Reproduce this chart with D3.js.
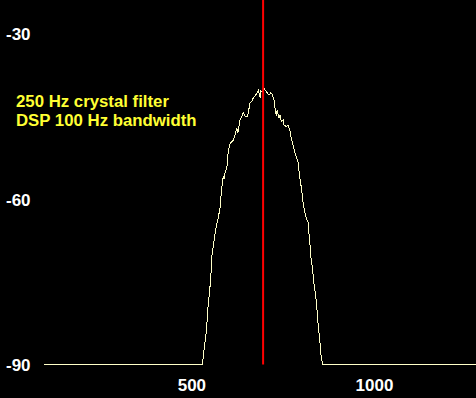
<!DOCTYPE html>
<html>
<head>
<meta charset="utf-8">
<script src="https://cdn.jsdelivr.net/npm/d3@7"></script>
<style>
  html, body { margin: 0; padding: 0; background: #000; }
  svg { display: block; }
</style>
</head>
<body>
<div id="chart"></div>
<script>
// spectrum trace, frequency (Hz) and level (dB)
const freqs = [95, 529, 530, 533, 536, 539, 542, 544, 547, 550, 553, 555, 561, 566, 572, 577, 580, 584, 586, 588,
  591, 596, 598, 600, 605, 609, 614, 618, 623, 626, 630, 632, 641, 646, 652, 655, 659, 664, 668, 673,
  678, 682, 687, 689, 694, 698, 701, 707, 711, 716, 720, 725, 729, 731, 734, 738, 741, 745, 750, 752,
  759, 763, 768, 772, 777, 782, 786, 791, 795, 800, 804, 809, 813, 818, 820, 823, 825, 829, 832, 834,
  838, 841, 844, 847, 850, 853, 854, 859, 1278];
const levels = [-90, -90, -89.2, -87.4, -85.9, -84.3, -81.9, -79.7, -77.7, -75.6, -72.8, -70.1, -67.4, -65.2, -63.4, -61.6, -59.2, -56.5, -55.9, -56.3,
  -55.2, -54.1, -52.3, -51.1, -49.8, -49.6, -49.2, -48.3, -47.1, -48.0, -46.2, -45.6, -44.3, -45.0, -44.9, -44.1, -42.5, -42.3, -41.6, -41.3,
  -40.7, -40.2, -41.6, -40.3, -40.5, -39.9, -40.2, -40.7, -41.1, -40.7, -40.9, -42.0, -44.3, -44.7, -43.8, -45.3, -44.7, -45.9, -45.6, -46.5,
  -46.8, -46.5, -47.4, -48.9, -50.2, -51.6, -52.3, -53.4, -55.9, -58.0, -60.4, -62.3, -63.4, -64.1, -65.9, -67.7, -70.1, -71.9, -73.8, -75.2,
  -77.0, -78.8, -81.3, -83.7, -85.5, -87.4, -88.8, -90, -90];

const markerFreq = 695;
const yTicks = [-30, -60, -90];
const xTicks = [500, 1000];
const notes = ["250 Hz crystal filter", "DSP 100 Hz bandwidth"];

const width = 476, height = 398;

const svg = d3.select("#chart")
  .append("svg")
  .attr("width", width)
  .attr("height", height)
  .style("background", "#000");

// scales
const x = d3.scaleLinear().domain([95, 1278]).range([44, 476]);
const y = d3.scaleLinear().domain([-30, -90]).range([34, 364.5]);

// y labels
svg.append("g")
  .selectAll("text")
  .data(yTicks)
  .enter()
  .append("text")
  .attr("x", 6)
  .attr("y", d => y(d) + 6.3)
  .attr("fill", "#fff")
  .attr("font-family", "Liberation Sans, Arial, sans-serif")
  .attr("font-weight", "bold")
  .attr("font-size", "17px")
  .text(d => d);

// x labels
svg.append("g")
  .selectAll("text")
  .data(xTicks)
  .enter()
  .append("text")
  .attr("x", d => x(d))
  .attr("y", 391)
  .attr("text-anchor", "middle")
  .attr("fill", "#fff")
  .attr("font-family", "Liberation Sans, Arial, sans-serif")
  .attr("font-weight", "bold")
  .attr("font-size", "17px")
  .text(d => d);

// the trace
const pts = freqs.map((f, i) => [f, levels[i]]);
const line = d3.line()
  .x(d => x(d[0]))
  .y(d => y(d[1]));

svg.append("path")
  .datum(pts)
  .attr("d", line)
  .attr("fill", "none")
  .attr("stroke", "#ffffc8")
  .attr("stroke-width", 1)
  .attr("shape-rendering", "crispEdges");

// marker line
svg.append("line")
  .attr("x1", x(markerFreq))
  .attr("x2", x(markerFreq))
  .attr("y1", 0)
  .attr("y2", y(-90))
  .attr("stroke", "#f00")
  .attr("stroke-width", 2);

// notes
svg.append("g")
  .selectAll("text")
  .data(notes)
  .enter()
  .append("text")
  .attr("x", 16)
  .attr("y", (d, i) => 107 + i * 18.5)
  .attr("fill", "#ffff33")
  .attr("font-family", "Liberation Sans, Arial, sans-serif")
  .attr("font-weight", "bold")
  .attr("font-size", "16.8px")
  .text(d => d);
</script>
</body>
</html>
